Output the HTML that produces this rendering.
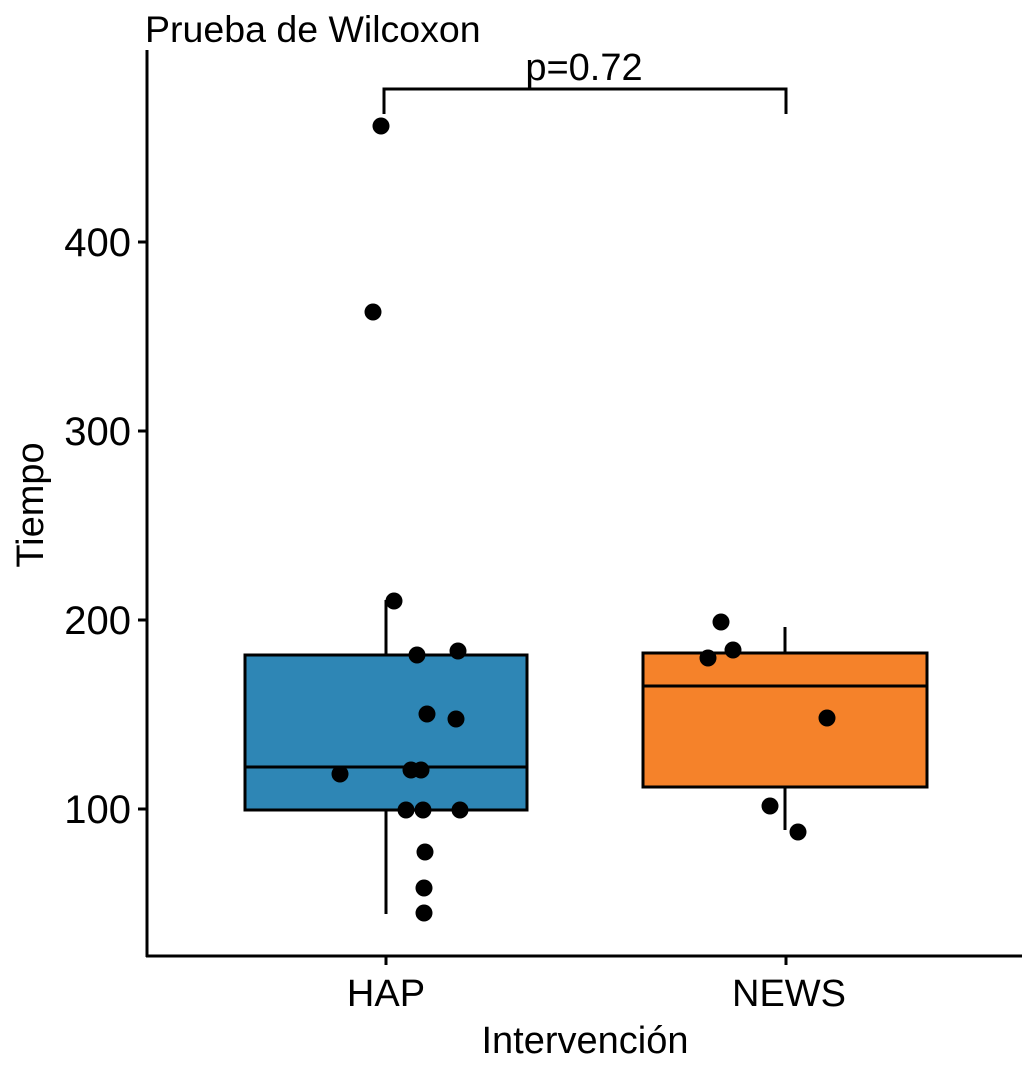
<!DOCTYPE html>
<html><head><meta charset="utf-8"><style>body{margin:0;background:#fff}</style></head><body>
<svg width="1024" height="1070" xmlns="http://www.w3.org/2000/svg" font-family="Liberation Sans, sans-serif">
<rect width="1024" height="1070" fill="#fff"/>
<text x="145" y="42" font-size="37.5">Prueba de Wilcoxon</text>
<g stroke="#000" stroke-width="3" fill="none">
<line x1="147" y1="50" x2="147" y2="957"/>
<line x1="146" y1="956" x2="1022" y2="956"/>
<line x1="138" y1="242" x2="147" y2="242"/>
<line x1="138" y1="431" x2="147" y2="431"/>
<line x1="138" y1="620" x2="147" y2="620"/>
<line x1="138" y1="809" x2="147" y2="809"/>
<line x1="386" y1="956" x2="386" y2="965"/>
<line x1="786" y1="956" x2="786" y2="965"/>
<polyline points="384,114 384,89 786,89 786,114"/>
<line x1="386" y1="600" x2="386" y2="914"/>
<line x1="785" y1="627" x2="785" y2="830"/>
</g>
<rect x="245" y="655" width="282" height="155" fill="#2E86B5" stroke="#000" stroke-width="3"/>
<line x1="245" y1="767" x2="527" y2="767" stroke="#000" stroke-width="3"/>
<rect x="643" y="653" width="284" height="134" fill="#F5822A" stroke="#000" stroke-width="3"/>
<line x1="643" y1="686" x2="927" y2="686" stroke="#000" stroke-width="3"/>
<g fill="#000">
<circle cx="381" cy="126" r="8.5"/><circle cx="373" cy="312" r="8.5"/><circle cx="394" cy="601" r="8.5"/>
<circle cx="417" cy="655" r="8.5"/><circle cx="458" cy="651" r="8.5"/><circle cx="427" cy="714" r="8.5"/>
<circle cx="456" cy="719" r="8.5"/><circle cx="340" cy="774" r="8.5"/><circle cx="411" cy="770" r="8.5"/>
<circle cx="421" cy="770" r="8.5"/><circle cx="406" cy="810" r="8.5"/><circle cx="423" cy="810" r="8.5"/>
<circle cx="460" cy="810" r="8.5"/><circle cx="425" cy="852" r="8.5"/><circle cx="424" cy="888" r="8.5"/>
<circle cx="424" cy="913" r="8.5"/>
<circle cx="721" cy="622" r="8.5"/><circle cx="708" cy="658" r="8.5"/><circle cx="733" cy="650" r="8.5"/>
<circle cx="827" cy="718" r="8.5"/><circle cx="770" cy="806" r="8.5"/><circle cx="798" cy="832" r="8.5"/>
</g>
<g font-size="40" text-anchor="end">
<text x="131" y="256">400</text><text x="131" y="445">300</text>
<text x="131" y="634">200</text><text x="131" y="823">100</text>
</g>
<g font-size="38" text-anchor="middle">
<text x="584" y="80">p=0.72</text>
<text x="386" y="1006">HAP</text>
<text x="789" y="1006">NEWS</text>
<text x="585" y="1053">Intervención</text>
<text transform="translate(43,505) rotate(-90)">Tiempo</text>
</g>
</svg>
</body></html>
